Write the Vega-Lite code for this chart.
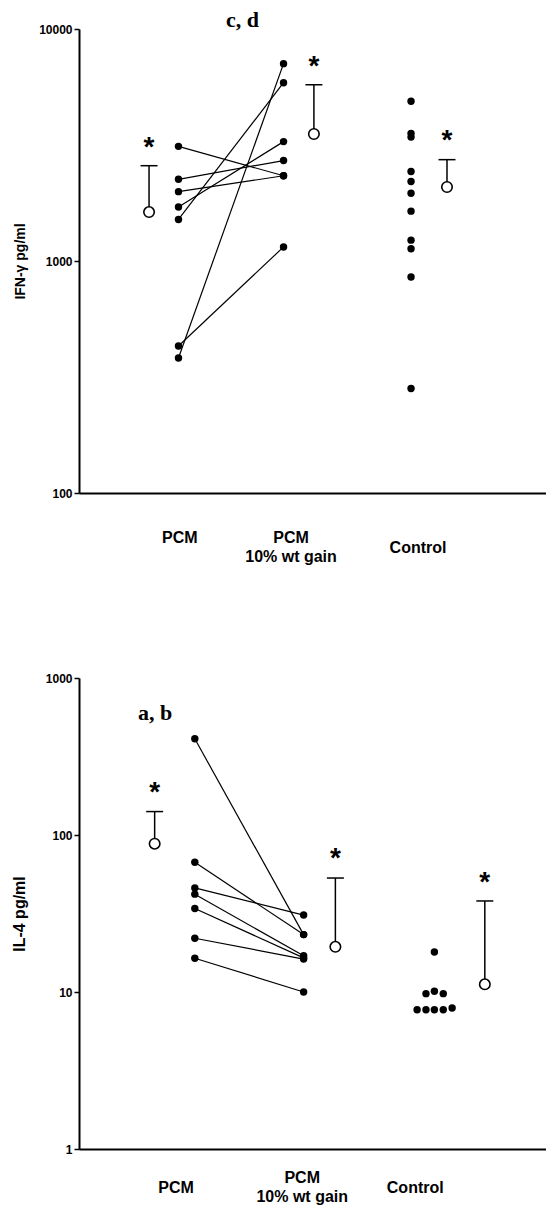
{
  "$schema": "https://vega.github.io/schema/vega-lite/v6.json",
  "background": "white",
  "padding": {"left": 11, "top": 8, "right": 0, "bottom": 0},
  "bounds": "flush",
  "spacing": 185,
  "config": {
    "view": {"stroke": null},
    "font": "Liberation Sans",
    "axis": {"grid": false, "domainColor": "black", "tickColor": "black", "labelColor": "black", "titleColor": "black"}
  },
  "datasets": {
    "ifn": [
      {"id": "S1", "group": "PCM", "x": 21.3, "v": 3120},
      {"id": "S1", "group": "PCM 10% wt gain", "x": 43.8, "v": 2330},
      {"id": "S2", "group": "PCM", "x": 21.3, "v": 2250},
      {"id": "S2", "group": "PCM 10% wt gain", "x": 43.8, "v": 2710},
      {"id": "S3", "group": "PCM", "x": 21.3, "v": 1990},
      {"id": "S3", "group": "PCM 10% wt gain", "x": 43.8, "v": 2330},
      {"id": "S4", "group": "PCM", "x": 21.3, "v": 1710},
      {"id": "S4", "group": "PCM 10% wt gain", "x": 43.8, "v": 3270},
      {"id": "S5", "group": "PCM", "x": 21.3, "v": 1510},
      {"id": "S5", "group": "PCM 10% wt gain", "x": 43.8, "v": 5870},
      {"id": "S6", "group": "PCM", "x": 21.3, "v": 430},
      {"id": "S6", "group": "PCM 10% wt gain", "x": 43.8, "v": 1150},
      {"id": "S7", "group": "PCM", "x": 21.3, "v": 382},
      {"id": "S7", "group": "PCM 10% wt gain", "x": 43.8, "v": 7090},
      {"id": "C1", "group": "Control", "x": 71.1, "v": 4880},
      {"id": "C2", "group": "Control", "x": 71.1, "v": 3550},
      {"id": "C3", "group": "Control", "x": 71.1, "v": 3420},
      {"id": "C4", "group": "Control", "x": 71.1, "v": 2430},
      {"id": "C5", "group": "Control", "x": 71.1, "v": 2200},
      {"id": "C6", "group": "Control", "x": 71.1, "v": 1960},
      {"id": "C7", "group": "Control", "x": 71.1, "v": 1640},
      {"id": "C8", "group": "Control", "x": 71.1, "v": 1230},
      {"id": "C9", "group": "Control", "x": 71.1, "v": 1130},
      {"id": "C10", "group": "Control", "x": 71.1, "v": 853},
      {"id": "C11", "group": "Control", "x": 71.1, "v": 282}
    ],
    "ifn_mean": [
      {"group": "PCM", "x": 15.0, "v": 1626, "v2": 2575, "s": 3186},
      {"group": "PCM 10% wt gain", "x": 50.3, "v": 3527, "v2": 5750, "s": 7160},
      {"group": "Control", "x": 78.8, "v": 2084, "v2": 2734, "s": 3420}
    ],
    "il4": [
      {"id": "S1", "group": "PCM", "x": 24.8, "v": 410},
      {"id": "S1", "group": "PCM 10% wt gain", "x": 48.1, "v": 23.2},
      {"id": "S2", "group": "PCM", "x": 24.8, "v": 67},
      {"id": "S2", "group": "PCM 10% wt gain", "x": 48.1, "v": 23.2},
      {"id": "S3", "group": "PCM", "x": 24.8, "v": 46},
      {"id": "S3", "group": "PCM 10% wt gain", "x": 48.1, "v": 30.9},
      {"id": "S4", "group": "PCM", "x": 24.8, "v": 42},
      {"id": "S4", "group": "PCM 10% wt gain", "x": 48.1, "v": 17},
      {"id": "S5", "group": "PCM", "x": 24.8, "v": 34},
      {"id": "S5", "group": "PCM 10% wt gain", "x": 48.1, "v": 16.5},
      {"id": "S6", "group": "PCM", "x": 24.8, "v": 22},
      {"id": "S6", "group": "PCM 10% wt gain", "x": 48.1, "v": 16.2},
      {"id": "S7", "group": "PCM", "x": 24.8, "v": 16.4},
      {"id": "S7", "group": "PCM 10% wt gain", "x": 48.1, "v": 10},
      {"id": "C1", "group": "Control", "x": 76.1, "v": 18.0},
      {"id": "C2", "group": "Control", "x": 74.3, "v": 9.76},
      {"id": "C3", "group": "Control", "x": 76.1, "v": 10.1},
      {"id": "C4", "group": "Control", "x": 78.0, "v": 9.76},
      {"id": "C5", "group": "Control", "x": 72.4, "v": 7.71},
      {"id": "C6", "group": "Control", "x": 74.3, "v": 7.71},
      {"id": "C7", "group": "Control", "x": 76.1, "v": 7.71},
      {"id": "C8", "group": "Control", "x": 78.0, "v": 7.71},
      {"id": "C9", "group": "Control", "x": 79.9, "v": 7.9}
    ],
    "il4_mean": [
      {"group": "PCM", "x": 16.2, "v": 88, "v2": 141, "s": 195},
      {"group": "PCM 10% wt gain", "x": 54.9, "v": 19.4, "v2": 53.2, "s": 74.6},
      {"group": "Control", "x": 86.9, "v": 11.2, "v2": 38, "s": 52.2}
    ],
    "ifn_text": [
      {"text": "c, d", "kind": "panel", "x": 35, "v": 10938},
      {"text": "PCM", "kind": "cat", "x": 21.6, "v": 64},
      {"text": "PCM", "kind": "cat", "x": 45.4, "v": 64},
      {"text": "10% wt gain", "kind": "cat", "x": 45.4, "v": 53},
      {"text": "Control", "kind": "cat", "x": 72.6, "v": 58}
    ],
    "il4_text": [
      {"text": "a, b", "kind": "panel", "x": 16.3, "v": 601},
      {"text": "PCM", "kind": "cat", "x": 20.8, "v": 0.567},
      {"text": "PCM", "kind": "cat", "x": 47.8, "v": 0.653},
      {"text": "10% wt gain", "kind": "cat", "x": 47.8, "v": 0.494},
      {"text": "Control", "kind": "cat", "x": 72.0, "v": 0.567}
    ]
  },
  "vconcat": [
    {
      "width": 467,
      "height": 464,
      "layer": [
        {
          "data": {"name": "ifn"},
          "transform": [{"filter": "datum.group != 'Control'"}],
          "mark": {"type": "line", "color": "black", "strokeWidth": 1.2},
          "encoding": {
            "x": {"field": "x", "type": "quantitative", "scale": {"domain": [0, 100], "nice": false, "zero": false},
                  "axis": {"labels": false, "ticks": false, "title": null, "domainWidth": 2}},
            "y": {"field": "v", "type": "quantitative", "scale": {"type": "log", "domain": [100, 10000], "nice": false},
                  "axis": {"title": "IFN-γ pg/ml", "values": [100, 1000, 10000], "format": "d", "labelFontSize": 12, "labelFontWeight": "bold", "labelFlush": false, "labelOverlap": false, "tickSize": 5, "tickWidth": 1.5, "labelPadding": 2, "domainWidth": 2, "titleFontSize": 14, "titleFontWeight": "bold", "titlePadding": 11.5}},
            "detail": {"field": "id"}
          }
        },
        {
          "data": {"name": "ifn"},
          "mark": {"type": "point", "filled": true, "color": "black", "size": 55, "opacity": 1},
          "encoding": {
            "x": {"field": "x", "type": "quantitative", "scale": {"domain": [0, 100], "nice": false, "zero": false}},
            "y": {"field": "v", "type": "quantitative", "scale": {"type": "log", "domain": [100, 10000], "nice": false}}
          }
        },
        {
          "data": {"name": "ifn_mean"},
          "mark": {"type": "rule", "color": "black", "strokeWidth": 1.5},
          "encoding": {
            "x": {"field": "x", "type": "quantitative", "scale": {"domain": [0, 100], "nice": false, "zero": false}},
            "y": {"field": "v", "type": "quantitative", "scale": {"type": "log", "domain": [100, 10000], "nice": false}},
            "y2": {"field": "v2"}
          }
        },
        {
          "data": {"name": "ifn_mean"},
          "mark": {"type": "tick", "orient": "horizontal", "color": "black", "size": 17, "thickness": 1.5, "opacity": 1},
          "encoding": {
            "x": {"field": "x", "type": "quantitative", "scale": {"domain": [0, 100], "nice": false, "zero": false}},
            "y": {"field": "v2", "type": "quantitative", "scale": {"type": "log", "domain": [100, 10000], "nice": false}}
          }
        },
        {
          "data": {"name": "ifn_mean"},
          "mark": {"type": "point", "shape": "circle", "filled": false, "fill": "white", "fillOpacity": 1, "stroke": "black", "strokeWidth": 1.6, "size": 110, "opacity": 1},
          "encoding": {
            "x": {"field": "x", "type": "quantitative", "scale": {"domain": [0, 100], "nice": false, "zero": false}},
            "y": {"field": "v", "type": "quantitative", "scale": {"type": "log", "domain": [100, 10000], "nice": false}}
          }
        },
        {
          "data": {"name": "ifn_mean"},
          "mark": {"type": "text", "text": "*", "font": "Liberation Sans", "fontWeight": "bold", "fontSize": 28, "color": "black", "baseline": "alphabetic", "align": "center", "dy": 12},
          "encoding": {
            "x": {"field": "x", "type": "quantitative", "scale": {"domain": [0, 100], "nice": false, "zero": false}},
            "y": {"field": "s", "type": "quantitative", "scale": {"type": "log", "domain": [100, 10000], "nice": false}}
          }
        },
        {
          "data": {"name": "ifn_text"},
          "transform": [{"filter": "datum.kind == 'panel'"}],
          "mark": {"type": "text", "font": "Liberation Serif", "fontWeight": "bold", "fontSize": 22, "color": "black", "baseline": "middle", "align": "center"},
          "encoding": {
            "x": {"field": "x", "type": "quantitative", "scale": {"domain": [0, 100], "nice": false, "zero": false}},
            "y": {"field": "v", "type": "quantitative", "scale": {"type": "log", "domain": [100, 10000], "nice": false}},
            "text": {"field": "text"}
          }
        },
        {
          "data": {"name": "ifn_text"},
          "transform": [{"filter": "datum.kind == 'cat'"}],
          "mark": {"type": "text", "font": "Liberation Sans", "fontWeight": "bold", "fontSize": 16, "color": "black", "baseline": "middle", "align": "center"},
          "encoding": {
            "x": {"field": "x", "type": "quantitative", "scale": {"domain": [0, 100], "nice": false, "zero": false}},
            "y": {"field": "v", "type": "quantitative", "scale": {"type": "log", "domain": [100, 10000], "nice": false}},
            "text": {"field": "text"}
          }
        }
      ]
    },
    {
      "width": 467,
      "height": 471,
      "layer": [
        {
          "data": {"name": "il4"},
          "transform": [{"filter": "datum.group != 'Control'"}],
          "mark": {"type": "line", "color": "black", "strokeWidth": 1.2},
          "encoding": {
            "x": {"field": "x", "type": "quantitative", "scale": {"domain": [0, 100], "nice": false, "zero": false},
                  "axis": {"labels": false, "ticks": false, "title": null, "domainWidth": 2}},
            "y": {"field": "v", "type": "quantitative", "scale": {"type": "log", "domain": [1, 1000], "nice": false},
                  "axis": {"title": "IL-4 pg/ml", "values": [1, 10, 100, 1000], "format": "d", "labelFontSize": 12, "labelFontWeight": "bold", "labelFlush": false, "labelOverlap": false, "tickSize": 5, "tickWidth": 1.5, "labelPadding": 2, "domainWidth": 2, "titleFontSize": 16, "titleFontWeight": "bold", "titlePadding": 17.5}},
            "detail": {"field": "id"}
          }
        },
        {
          "data": {"name": "il4"},
          "mark": {"type": "point", "filled": true, "color": "black", "size": 55, "opacity": 1},
          "encoding": {
            "x": {"field": "x", "type": "quantitative", "scale": {"domain": [0, 100], "nice": false, "zero": false}},
            "y": {"field": "v", "type": "quantitative", "scale": {"type": "log", "domain": [1, 1000], "nice": false}}
          }
        },
        {
          "data": {"name": "il4_mean"},
          "mark": {"type": "rule", "color": "black", "strokeWidth": 1.5},
          "encoding": {
            "x": {"field": "x", "type": "quantitative", "scale": {"domain": [0, 100], "nice": false, "zero": false}},
            "y": {"field": "v", "type": "quantitative", "scale": {"type": "log", "domain": [1, 1000], "nice": false}},
            "y2": {"field": "v2"}
          }
        },
        {
          "data": {"name": "il4_mean"},
          "mark": {"type": "tick", "orient": "horizontal", "color": "black", "size": 17, "thickness": 1.5, "opacity": 1},
          "encoding": {
            "x": {"field": "x", "type": "quantitative", "scale": {"domain": [0, 100], "nice": false, "zero": false}},
            "y": {"field": "v2", "type": "quantitative", "scale": {"type": "log", "domain": [1, 1000], "nice": false}}
          }
        },
        {
          "data": {"name": "il4_mean"},
          "mark": {"type": "point", "shape": "circle", "filled": false, "fill": "white", "fillOpacity": 1, "stroke": "black", "strokeWidth": 1.6, "size": 110, "opacity": 1},
          "encoding": {
            "x": {"field": "x", "type": "quantitative", "scale": {"domain": [0, 100], "nice": false, "zero": false}},
            "y": {"field": "v", "type": "quantitative", "scale": {"type": "log", "domain": [1, 1000], "nice": false}}
          }
        },
        {
          "data": {"name": "il4_mean"},
          "mark": {"type": "text", "text": "*", "font": "Liberation Sans", "fontWeight": "bold", "fontSize": 28, "color": "black", "baseline": "alphabetic", "align": "center", "dy": 12},
          "encoding": {
            "x": {"field": "x", "type": "quantitative", "scale": {"domain": [0, 100], "nice": false, "zero": false}},
            "y": {"field": "s", "type": "quantitative", "scale": {"type": "log", "domain": [1, 1000], "nice": false}}
          }
        },
        {
          "data": {"name": "il4_text"},
          "transform": [{"filter": "datum.kind == 'panel'"}],
          "mark": {"type": "text", "font": "Liberation Serif", "fontWeight": "bold", "fontSize": 22, "color": "black", "baseline": "middle", "align": "center"},
          "encoding": {
            "x": {"field": "x", "type": "quantitative", "scale": {"domain": [0, 100], "nice": false, "zero": false}},
            "y": {"field": "v", "type": "quantitative", "scale": {"type": "log", "domain": [1, 1000], "nice": false}},
            "text": {"field": "text"}
          }
        },
        {
          "data": {"name": "il4_text"},
          "transform": [{"filter": "datum.kind == 'cat'"}],
          "mark": {"type": "text", "font": "Liberation Sans", "fontWeight": "bold", "fontSize": 16, "color": "black", "baseline": "middle", "align": "center"},
          "encoding": {
            "x": {"field": "x", "type": "quantitative", "scale": {"domain": [0, 100], "nice": false, "zero": false}},
            "y": {"field": "v", "type": "quantitative", "scale": {"type": "log", "domain": [1, 1000], "nice": false}},
            "text": {"field": "text"}
          }
        }
      ]
    }
  ]
}
